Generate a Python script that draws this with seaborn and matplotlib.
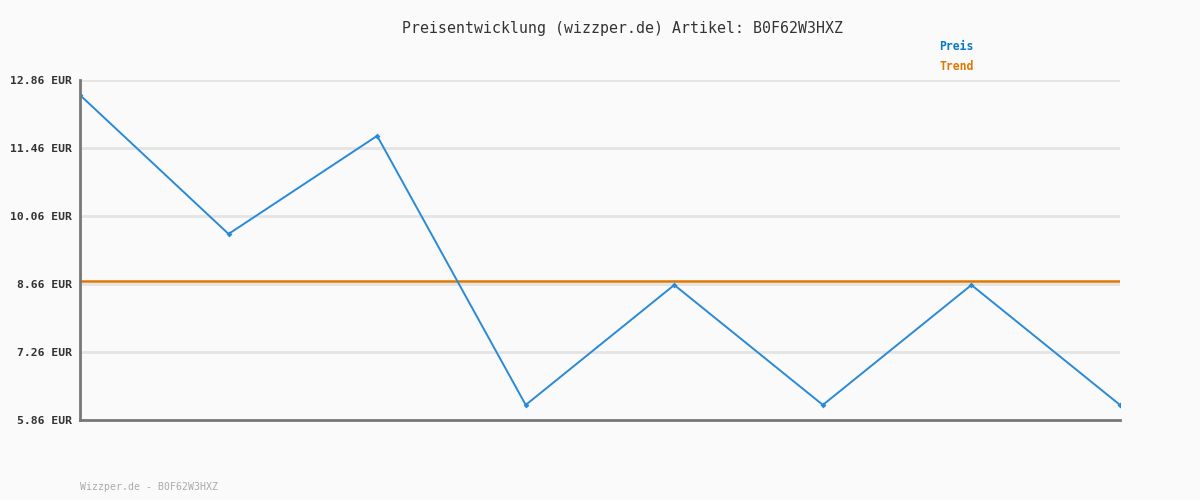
import matplotlib
matplotlib.use("Agg")
import matplotlib.pyplot as plt
import seaborn as sns
import pandas as pd

idx = [0, 1, 2, 3, 4, 5, 6, 7]
preis = [12.55, 9.69, 11.71, 6.17, 8.64, 6.17, 8.64, 6.17]
trend = [8.72] * 8
yticks = [5.86, 7.26, 8.66, 10.06, 11.46, 12.86]
ytick_labels = ["5.86 EUR", "7.26 EUR", "8.66 EUR", "10.06 EUR", "11.46 EUR", "12.86 EUR"]
title = "Preisentwicklung (wizzper.de) Artikel: B0F62W3HXZ"
footer = "Wizzper.de - B0F62W3HXZ"

sns.set_style("white")
plt.rcParams["font.family"] = ["DejaVu Sans Mono", "DejaVu Sans"]

df = pd.DataFrame({"idx": idx, "preis": preis, "trend": trend})

fig = plt.figure(figsize=(12, 5), dpi=100, facecolor="#fafafa")
ax = fig.add_axes([80/1200, 1-420/500, 1040/1200, 340/500])
ax.set_facecolor("#fafafa")

for y in yticks:
    ax.axhline(y, color="#e4e4e4", lw=2, zorder=0)

sns.lineplot(data=df, x="idx", y="trend", ax=ax, color="#e07800", lw=1.8, zorder=2)
sns.lineplot(data=df, x="idx", y="preis", ax=ax, color="#2a8ad6", lw=1.4,
             marker="D", markersize=3, markeredgewidth=0, zorder=3)

ax.set_xlim(0, 7)
ax.set_ylim(5.86, 12.86)
ax.set_yticks(yticks)
ax.set_yticklabels(ytick_labels, fontsize=8.2, fontweight="bold", color="#333333")
ax.set_xticks([])
ax.set_xlabel("")
ax.set_ylabel("")
ax.tick_params(axis="y", length=0, pad=6)
for s in ["top", "right"]:
    ax.spines[s].set_visible(False)
for s in ["left", "bottom"]:
    ax.spines[s].set_color("#777777")
    ax.spines[s].set_linewidth(2)
ax.spines["left"].set_zorder(4)
ax.spines["bottom"].set_zorder(4)

fig.text(623/1200, 1-28/500, title, ha="center", va="center", fontsize=10.7, color="#333333")
fig.text(939/1200, 1-47/500, "Preis", ha="left", va="center", fontsize=8.3,
         fontweight="bold", color="#0a78c8")
fig.text(939/1200, 1-67/500, "Trend", ha="left", va="center", fontsize=8.3,
         fontweight="bold", color="#e07800")
fig.text(80/1200, 1-487/500, footer, ha="left", va="center", fontsize=7.1, color="#aaaaaa")

fig.savefig("out.png", dpi=100, facecolor="#fafafa")
